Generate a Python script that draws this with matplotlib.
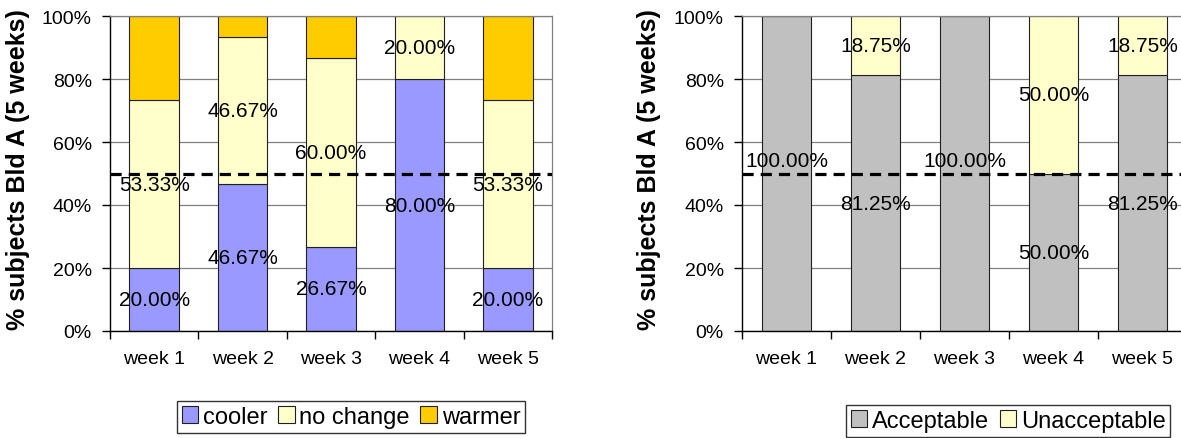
import matplotlib
matplotlib.use("Agg")
import matplotlib.pyplot as plt
from matplotlib.patches import Patch

plt.rcParams["font.family"] = ["Liberation Sans", "DejaVu Sans"]

weeks = ["week 1", "week 2", "week 3", "week 4", "week 5"]

# left chart: thermal sensation vote (% of subjects)
cooler = [20.00, 46.67, 26.67, 80.00, 20.00]
no_change = [53.33, 46.67, 60.00, 20.00, 53.33]
warmer = [26.67, 6.66, 13.33, 0.00, 26.67]

# right chart: acceptability (% of subjects)
acceptable = [100.00, 81.25, 100.00, 50.00, 81.25]
unacceptable = [0.00, 18.75, 0.00, 50.00, 18.75]

threshold = 50
ylabel = "% subjects Bld A (5 weeks)"

W, H = 1181, 439
fig = plt.figure(figsize=(W / 100, H / 100), dpi=100)


def _frame(ax):
    n = len(weeks)
    ax.set_xlim(0, n)
    ax.set_ylim(0, 100)
    ax.set_yticks(range(0, 101, 20))
    ax.set_yticklabels([f"{v}%" for v in range(0, 101, 20)])
    ax.set_xticks(range(n + 1))
    ax.set_xticklabels([])
    ax.set_xticks([i + 0.5 for i in range(n)], minor=True)
    ax.set_xticklabels(weeks, minor=True)
    ax.tick_params(axis="x", which="major", direction="out", length=6, width=1)
    ax.tick_params(axis="x", which="minor", length=0, pad=14, labelsize=14)
    ax.tick_params(axis="y", direction="out", length=6, width=1, pad=7, labelsize=14)
    ax.yaxis.grid(True, color="#808080", lw=0.9)
    ax.set_axisbelow(True)
    for s in ("top", "right"):
        ax.spines[s].set_color("#808080")
        ax.spines[s].set_linewidth(0.9)
    for s in ("left", "bottom"):
        ax.spines[s].set_color("black")
        ax.spines[s].set_linewidth(1.0)
    ax.axhline(threshold, color="black", lw=2.3, ls=(0, (3.5, 2.2)), zorder=4)


def _stack(ax, series, colors, labelled):
    xs = [i + 0.5 for i in range(len(weeks))]
    bottom = [0.0] * len(weeks)
    for vals, col, lab in zip(series, colors, labelled):
        ax.bar(xs, vals, width=0.56, bottom=bottom, color=col,
               edgecolor="#202020", lw=0.8, zorder=2)
        if lab:
            for x, b, v in zip(xs, bottom, vals):
                if v > 0:
                    # full-height labels sit just above the 50% line in the original
                    y = b + v / 2 + (4 if v >= 100 else 0)
                    ax.text(x, y, f"{v:.2f}%", ha="center", va="center",
                            fontsize=15, zorder=5)
        bottom = [b + v for b, v in zip(bottom, vals)]


def _legend(handles_cols, labels, cx, cy):
    leg = fig.legend(
        handles=[Patch(facecolor=c, edgecolor="#202020", lw=0.8) for c in handles_cols],
        labels=labels, loc="center", bbox_to_anchor=(cx / W, 1 - cy / H),
        ncol=len(labels), fontsize=17, frameon=True, fancybox=False,
        handlelength=0.7, handleheight=0.7, handletextpad=0.2,
        columnspacing=0.45, borderpad=0.2, borderaxespad=0)
    leg.get_frame().set_edgecolor("black")
    leg.get_frame().set_linewidth(1.0)


# left panel
ax1 = fig.add_axes([110 / W, 1 - 332 / H, 442 / W, 315 / H])
_frame(ax1)
cols1 = ["#9999FF", "#FFFFCC", "#FFCC00"]
_stack(ax1, [cooler, no_change, warmer], cols1, [True, True, False])
fig.text(18 / W, 1 - 170 / H, ylabel, rotation=90, ha="center", va="center",
         fontsize=18, fontweight="bold")
_legend(cols1, ["cooler", "no change", "warmer"], 351, 418)

# right panel
ax2 = fig.add_axes([742 / W, 1 - 332 / H, 445 / W, 315 / H])
_frame(ax2)
cols2 = ["#C0C0C0", "#FFFFCC"]
_stack(ax2, [acceptable, unacceptable], cols2, [True, True])
fig.text(649 / W, 1 - 170 / H, ylabel, rotation=90, ha="center", va="center",
         fontsize=18, fontweight="bold")
_legend(cols2, ["Acceptable", "Unacceptable"], 1008, 422)

fig.savefig("out.png", dpi=100)
